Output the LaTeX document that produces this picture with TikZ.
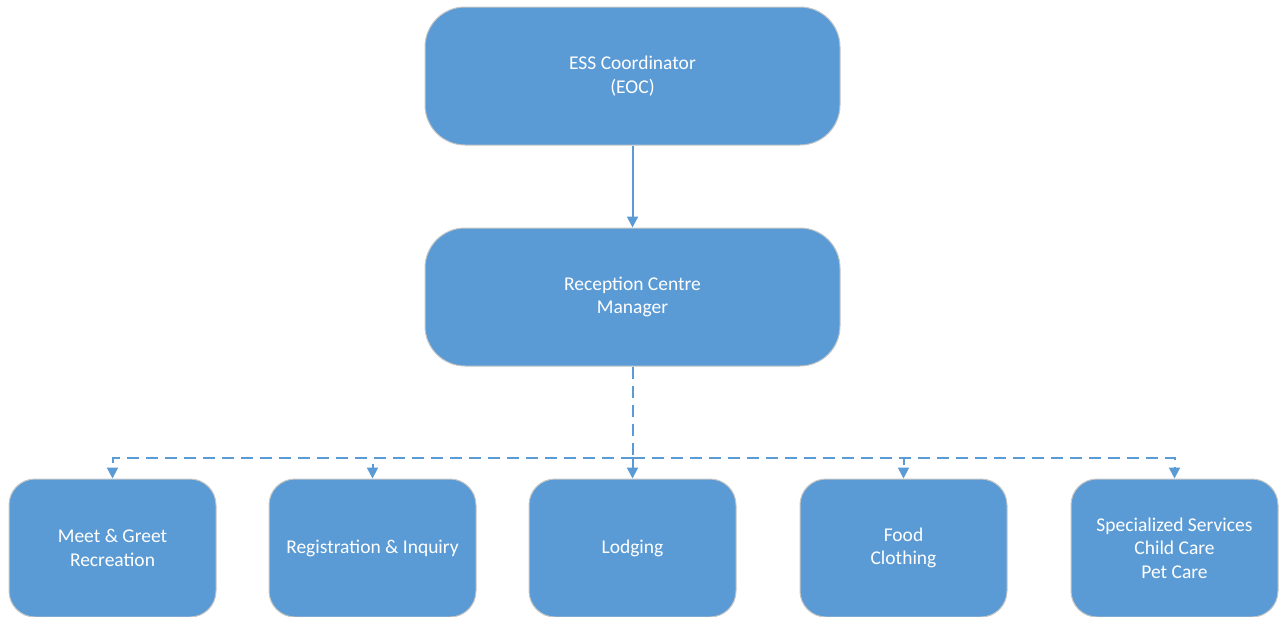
\documentclass[tikz,border=0pt]{standalone}
\usepackage{fontspec}
\setmainfont{Carlito}
\usetikzlibrary{calc,positioning,arrows.meta}
\definecolor{essblue}{HTML}{5B9BD5}
\tikzset{
	orgbox/.style={draw=gray!45, line width=1pt, fill=essblue, text=white, align=center,
		inner sep=0pt, font=\fontsize{19.5}{23.5}\selectfont},
	bigbox/.style={orgbox, rounded corners=40pt, minimum width=415pt, minimum height=138pt},
	smallbox/.style={orgbox, rounded corners=26pt, minimum width=207pt, minimum height=138pt},
	link/.style={draw=essblue, line width=2pt, -{Triangle[width=11pt,length=11pt]}},
	dashlink/.style={draw=essblue, line width=2pt, dash pattern=on 12pt off 7pt}
}
\begin{document}
\begin{tikzpicture}[x=1pt,y=-1pt]
		\useasboundingbox (0,0) rectangle (1281,616);
		\node[bigbox] at (632.5,76) (ess) {ESS Coordinator\\(EOC)};
		\node[bigbox] at (632.5,297) (rcm) {Reception Centre\\Manager};
		\node[smallbox] at (112.5,548) (mg) {Meet \& Greet\\Recreation};
		\node[smallbox] at (372.5,548) (ri) {Registration \& Inquiry};
		\node[smallbox] at (632.5,548) (lo) {Lodging};
		\node[smallbox] at (903.5,548) (fc) {Food\\Clothing};
		\node[smallbox] at (1174.5,548) (ss) {Specialized Services\\Child Care\\Pet Care};
		\draw[link] (ess) -- (rcm);
		\coordinate (hub) at ($(rcm.south)+(0,91)$);
		\draw[dashlink] (rcm) -- (hub);
		\foreach \b in {mg,ri,lo,fc,ss}{
			\draw[dashlink, link] (hub) -| (\b);
		}
\end{tikzpicture}
\end{document}
